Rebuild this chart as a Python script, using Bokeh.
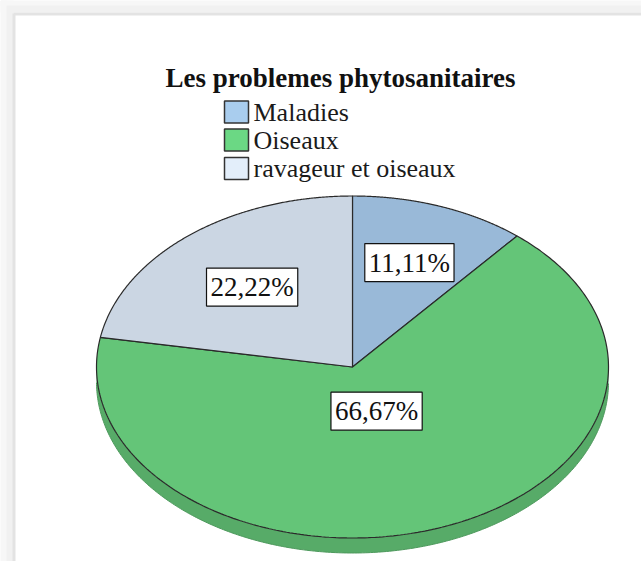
import numpy as np
from bokeh.plotting import figure
from bokeh.models import Range1d
from bokeh.embed import file_html
from bokeh.resources import INLINE
from bokeh.core.properties import value

# ---- data ----
chart_title = "Les problemes phytosanitaires"
categories = ["Maladies", "Oiseaux", "ravageur et oiseaux"]
percentages = [11.11, 66.67, 22.22]
pct_labels = ["11,11%", "66,67%", "22,22%"]
slice_colors = ["#99B9D8", "#64C578", "#CBD6E3"]
legend_colors = ["#A9CDEE", "#6BD884", "#E3EEFA"]
label_radius = [0.65, 0.275, 0.61]

# ---- layout / style ----
W, H = 641, 561
CX, CY, RX, RY, DEPTH = 352.0, 366.5, 256.0, 171.0, 15.0
SERIF = "Liberation Serif"

p = figure(width=W, height=H, x_range=Range1d(0, W), y_range=Range1d(H, 0),
           output_backend="svg", toolbar_location=None, min_border=0,
           x_axis_type=None, y_axis_type=None)
p.grid.visible = False
p.outline_line_color = None
p.background_fill_color = "white"
p.border_fill_color = "white"

# page frame (light gray strips top and left)
p.quad(left=[0, 0], right=[W, 13], top=[0, 0], bottom=[12, H],
       fill_color="#f1f1f1", line_color=None)
p.quad(left=[0, 0], right=[W, 6], top=[0, 0], bottom=[5, H],
       fill_color="#f7f7f7", line_color=None)
p.quad(left=[13, 12], right=[W, 15], top=[12, 13], bottom=[15, H],
       fill_color="#e3e3e3", line_color=None)


def darken(hex_color, f):
    h = hex_color.lstrip("#")
    r, g, b = (int(h[i:i + 2], 16) for i in (0, 2, 4))
    return "#%02x%02x%02x" % (int(r * f), int(g * f), int(b * f))


# slice angular ranges (clockwise from 12 o'clock)
fracs = np.array(percentages) / np.sum(percentages)
starts = np.pi / 2 - 2 * np.pi * np.concatenate([[0], np.cumsum(fracs)[:-1]])
ends = starts - 2 * np.pi * fracs

# side (depth) of the pie: only the front half is visible
for s, e, col in zip(starts, ends, slice_colors):
    t = np.linspace(s, e, 400)
    t = t[np.sin(t) <= 0]
    if len(t) < 2:
        continue
    xs = CX + RX * np.cos(t)
    ys = CY - RY * np.sin(t)
    px = np.concatenate([xs, xs[::-1]])
    py = np.concatenate([ys, ys[::-1] + DEPTH])
    p.patch(px, py, fill_color=darken(col, 0.87), line_color=None)
    p.line(xs, ys + DEPTH, line_color=darken(col, 0.78), line_width=1)

# top face slices
for s, e, col in zip(starts, ends, slice_colors):
    t = np.linspace(s, e, 300)
    xs = np.concatenate([[CX], CX + RX * np.cos(t), [CX]])
    ys = np.concatenate([[CY], CY - RY * np.sin(t), [CY]])
    p.patch(xs, ys, fill_color=col, line_color="#2a2a2a", line_width=1.2)

# percentage labels
mids = (starts + ends) / 2
lx = CX + RX * np.array(label_radius) * np.cos(mids)
ly = CY - RY * np.array(label_radius) * np.sin(mids)
p.text(x=lx, y=ly, text=pct_labels, text_align="center", text_baseline="middle",
       text_font=value(SERIF), text_font_size="27px", text_color="#111111",
       background_fill_color="white", border_line_color="#111111", border_line_width=1.2,
       padding=4)

# title
p.text(x=[340], y=[77], text=[chart_title], text_align="center", text_baseline="middle",
       text_font=value(SERIF), text_font_size="27px", text_font_style="bold", text_color="#111111")

# legend
LX, SQW, SQH = 236, 24, 22
ly_items = [111.5, 139.5, 168]
p.rect(x=[LX] * len(categories), y=ly_items, width=SQW, height=SQH,
       fill_color=legend_colors, line_color="#333333", line_width=1.5)
p.text(x=[LX + SQW / 2 + 5] * len(categories), y=ly_items, text=categories,
       text_align="left", text_baseline="middle", text_font=value(SERIF),
       text_font_size="26px", text_color="#1a1a1a")

open("out.html", "w").write(file_html(p, INLINE))
